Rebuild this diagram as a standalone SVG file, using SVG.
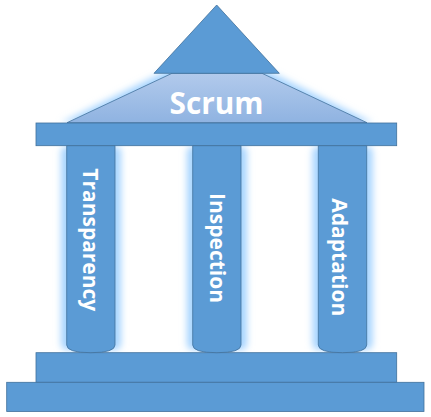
<svg xmlns="http://www.w3.org/2000/svg" width="431" height="417" viewBox="0 0 431 417">
<defs>
<style>
.b{fill:#5b9bd5;stroke:#41719c;stroke-width:0.8}
.g{fill:#a6d4ff;filter:url(#blur)}
.t{font-family:"Open Sans","DejaVu Sans",sans-serif;font-weight:bold;fill:#ffffff}
.ct{font-size:22px}
</style>
<filter id="blur" x="-50%" y="-50%" width="200%" height="200%"><feGaussianBlur stdDeviation="3.5"/></filter>
<linearGradient id="roof" x1="0" y1="0" x2="0" y2="1">
<stop offset="0" stop-color="#b2caec"/>
<stop offset="1" stop-color="#8fb3e1"/>
</linearGradient>
</defs>
<rect width="431" height="417" fill="#ffffff"/>
<g id="glow">
<polygon class="g" points="170,69 264,69 373,123 61,123"/>
<rect class="g" x="61" y="146" width="60" height="204" rx="6"/>
<rect class="g" x="187" y="146" width="60" height="204" rx="6"/>
<rect class="g" x="312.5" y="146" width="60" height="204" rx="6"/>
</g>
<g id="pediment">
<polygon points="172,73.3 262,73.3 367,122.7 67,122.7" fill="url(#roof)" stroke="#41719c" stroke-width="0.8"/>
<text class="t" x="216.5" y="114.3" font-size="30" text-anchor="middle" textLength="94" lengthAdjust="spacingAndGlyphs">Scrum</text>
</g>
<g id="apex">
<polygon class="b" points="216.7,5 279.3,73.3 154,73.3"/>
</g>
<g id="beam">
<rect class="b" x="36" y="123" width="360.7" height="22.7"/>
</g>
<g id="base">
<rect class="b" x="36" y="352.7" width="360.7" height="29.6"/>
<rect class="b" x="6.7" y="382.3" width="417.3" height="29.2"/>
</g>
<g id="col-transparency">
<path class="b" d="M66.7,145.7 V345 Q66.7,352.7 90.9,352.7 Q115,352.7 115,345 V145.7 Z"/>
<text class="t ct" transform="translate(83.3,168.3) rotate(90)" textLength="143" lengthAdjust="spacingAndGlyphs">Transparency</text>
</g>
<g id="col-inspection">
<path class="b" d="M192.7,145.7 V345 Q192.7,352.7 216.9,352.7 Q241,352.7 241,345 V145.7 Z"/>
<text class="t ct" transform="translate(209.8,193) rotate(90)" textLength="110" lengthAdjust="spacingAndGlyphs">Inspection</text>
</g>
<g id="col-adaptation">
<path class="b" d="M318.3,145.7 V345 Q318.3,352.7 342.5,352.7 Q366.7,352.7 366.7,345 V145.7 Z"/>
<text class="t ct" transform="translate(332,198.3) rotate(90)" textLength="118" lengthAdjust="spacingAndGlyphs">Adaptation</text>
</g>
<g id="connectors"/>
</svg>
